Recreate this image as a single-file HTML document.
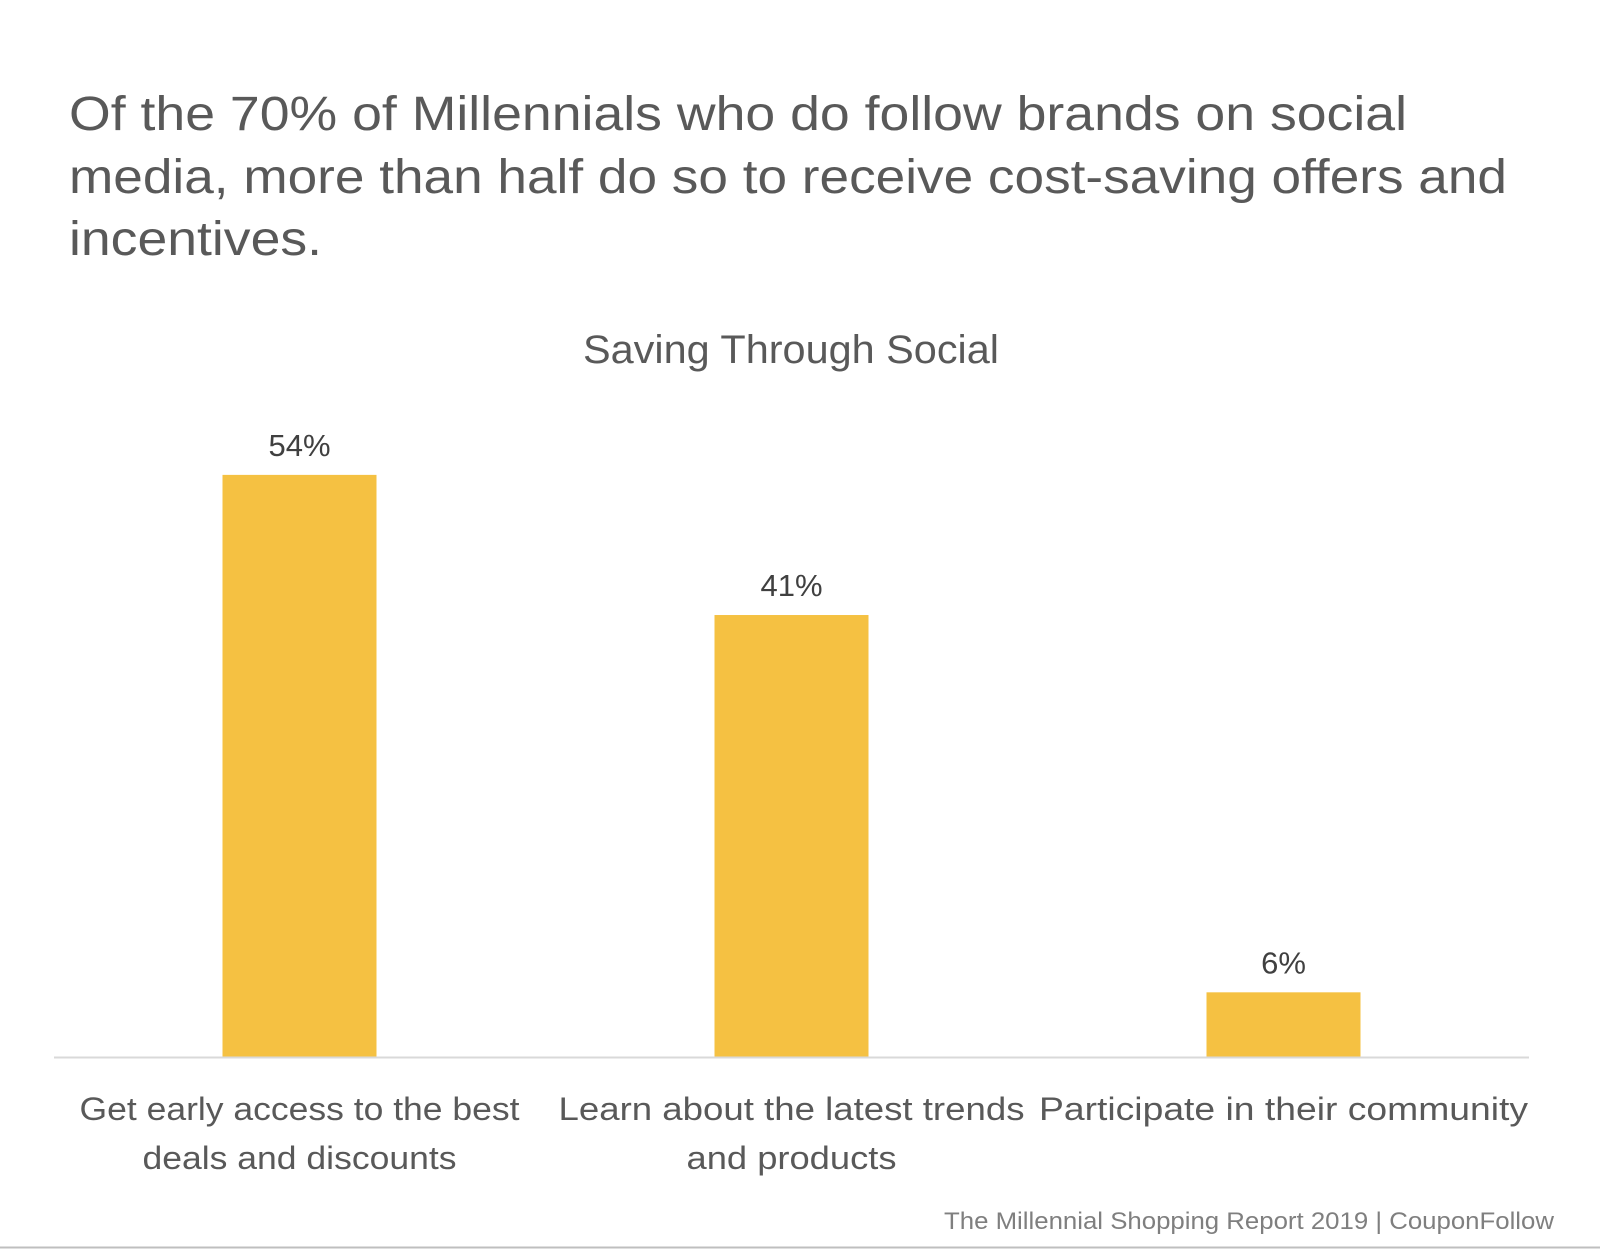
<!DOCTYPE html>
<html>
<head>
<meta charset="utf-8">
<style>
html,body{margin:0;padding:0;background:#fff;}
svg{display:block;font-family:"Liberation Sans",Arial,sans-serif;}
</style>
</head>
<body>
<svg id="chart" width="1600" height="1249" viewBox="0 0 1600 1249">
  <g fill="#595959" font-size="48">
    <text x="69" y="130" textLength="1338" lengthAdjust="spacingAndGlyphs">Of the 70% of Millennials who do follow brands on social</text>
    <text x="69" y="193" textLength="1438" lengthAdjust="spacingAndGlyphs">media, more than half do so to receive cost-saving offers and</text>
    <text x="69" y="255" textLength="253" lengthAdjust="spacingAndGlyphs">incentives.</text>
  </g>
  <text x="791" y="363" text-anchor="middle" font-size="40" fill="#595959" textLength="416" lengthAdjust="spacingAndGlyphs">Saving Through Social</text>
  <g id="bars"></g>
  <line x1="54" y1="1057.5" x2="1529" y2="1057.5" stroke="#d9d9d9" stroke-width="2"/>
  <text x="1554" y="1229" text-anchor="end" font-size="24" fill="#7f7f7f" textLength="610" lengthAdjust="spacingAndGlyphs">The Millennial Shopping Report 2019 | CouponFollow</text>
  <line x1="0" y1="1247.5" x2="1600" y2="1247.5" stroke="#bfbfbf" stroke-width="2"/>
</svg>
<script>
const categories = [
  ["Get early access to the best", "deals and discounts"],
  ["Learn about the latest trends", "and products"],
  ["Participate in their community"]
];
const values = [54, 41, 6];
const valueLabels = ["54%", "41%", "6%"];

const labelWidths = [[440, 314], [466, 210], [489]];
const baseY = 1057, pxPerPct = 10.78;
const firstCenter = 299.5, step = 492, barW = 154;
function xCenter(i){ return firstCenter + i*step; }
function yScale(v){ return baseY - v*pxPerPct; }

const ns = "http://www.w3.org/2000/svg";
const g = document.getElementById("bars");
values.forEach((v,i)=>{
  const cx = xCenter(i), top = yScale(v);
  const r = document.createElementNS(ns,"rect");
  r.setAttribute("x", cx - barW/2);
  r.setAttribute("y", top);
  r.setAttribute("width", barW);
  r.setAttribute("height", baseY - top);
  r.setAttribute("fill", "#F5C142");
  
  
  g.appendChild(r);

  const t = document.createElementNS(ns,"text");
  t.setAttribute("x", cx);
  t.setAttribute("y", top - 19);
  t.setAttribute("text-anchor", "middle");
  t.setAttribute("font-size", "31");
  t.setAttribute("fill", "#404040");
  t.textContent = valueLabels[i];
  
  
  g.appendChild(t);

  categories[i].forEach((line,j)=>{
    const c = document.createElementNS(ns,"text");
    c.setAttribute("x", cx);
    c.setAttribute("y", 1120 + j*49);
    c.setAttribute("text-anchor", "middle");
    c.setAttribute("font-size", "32");
    c.setAttribute("fill", "#595959");
    if (labelWidths[i] && labelWidths[i][j]) {
      c.setAttribute("textLength", labelWidths[i][j]);
      c.setAttribute("lengthAdjust", "spacingAndGlyphs");
    }
    c.textContent = line;
    
    
    g.appendChild(c);
  });
});
</script>
</body>
</html>
